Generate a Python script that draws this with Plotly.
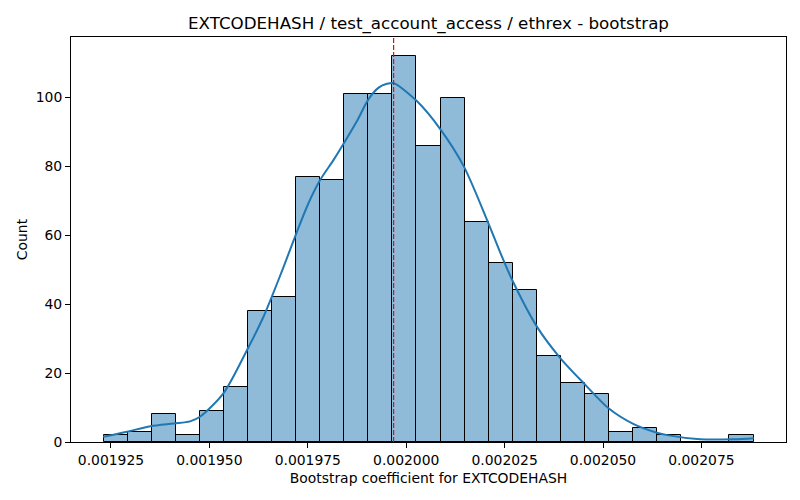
import plotly.graph_objects as go

# histogram of bootstrap coefficients (counts per bin)
bin_start = 0.0019231
bin_width = 6.116e-6
counts = [2, 3, 8, 2, 9, 16, 38, 42, 77, 76, 101, 101, 112, 86,
          100, 64, 52, 44, 25, 17, 14, 3, 4, 2, 0, 0, 2]

# kde curve, scaled to counts
kde_x = [0.0019230, 0.0019291, 0.0019350, 0.0019409, 0.0019451, 0.0019477,
         0.0019536, 0.0019596, 0.0019636, 0.0019659, 0.0019689, 0.0019723,
         0.0019752, 0.0019782, 0.0019816, 0.0019845, 0.0019875, 0.0019904,
         0.0019930, 0.0019951, 0.0019968, 0.0020027,
         0.0020087, 0.0020146, 0.0020205, 0.0020239, 0.0020269, 0.0020332,
         0.0020392, 0.0020455, 0.0020514, 0.0020578, 0.0020637, 0.0020663,
         0.0020747, 0.0020832, 0.0020883]
kde_y = [1.5, 3.0, 4.6, 5.4, 6.0, 7.4,
         14.2, 26.8, 36.0, 42.3, 51.0, 61.2,
         69.4, 76.2, 82.0, 87.4, 93.2, 99.5,
         102.9, 104.0, 104.2, 99.0,
         90.8, 80.1, 64.6, 55.0, 47.1, 33.5,
         24.3, 16.6, 9.8, 5.2, 2.7, 2.0,
         0.8, 0.8, 1.1]

boot_mean = 0.0019968

x_ticks = [0.001925, 0.001950, 0.001975, 0.002000, 0.002025, 0.002050, 0.002075]
y_ticks = [0, 20, 40, 60, 80, 100]

centers = [bin_start + bin_width * (i + 0.5) for i in range(len(counts))]

fig = go.Figure()
fig.add_trace(go.Bar(
    x=centers,
    y=counts,
    width=bin_width,
    marker=dict(color="rgba(31,119,180,0.5)",
                line=dict(color="black", width=1)),
    showlegend=False,
))
fig.add_trace(go.Scatter(
    x=kde_x,
    y=kde_y,
    mode="lines",
    line=dict(color="#1f77b4", width=2, shape="spline", smoothing=0.8),
    showlegend=False,
))
fig.add_vline(x=boot_mean, line=dict(color="red", width=1.2, dash="5px,2px"))

lo = bin_start
hi = bin_start + bin_width * len(counts)
pad = (hi - lo) * 0.05

fig.update_layout(
    width=800,
    height=500,
    margin=dict(l=71, r=14, t=37, b=58),
    paper_bgcolor="white",
    plot_bgcolor="white",
    font=dict(family="DejaVu Sans", size=14, color="black"),
    title=dict(text="EXTCODEHASH / test_account_access / ethrex - bootstrap",
               xref="paper", x=0.5, xanchor="center",
               yref="container", y=0.954, yanchor="middle",
               font=dict(size=16.7)),
    bargap=0,
)
fig.update_xaxes(
    range=[lo - pad, hi + pad],
    tickvals=x_ticks,
    tickformat=".6f",
    tickfont=dict(size=13.9),
    ticks="outside", ticklen=5, tickcolor="black",
    showline=True, linecolor="black", linewidth=1, mirror=True,
    showgrid=False, zeroline=False, automargin=False,
    title=dict(text="Bootstrap coefficient for EXTCODEHASH", standoff=6,
               font=dict(size=13.9)),
)
fig.update_yaxes(
    range=[0, max(counts) * 1.05],
    tickvals=y_ticks,
    tickfont=dict(size=13.9),
    ticks="outside", ticklen=5, tickcolor="black",
    showline=True, linecolor="black", linewidth=1, mirror=True,
    showgrid=False, zeroline=False, automargin=False,
    title=dict(text="Count", standoff=4, font=dict(size=13.9)),
)

# the page body has a default margin that shifts the figure
fig.write_html("out.html", config={"displayModeBar": False},
               post_script="document.body.style.margin = '0px';")
